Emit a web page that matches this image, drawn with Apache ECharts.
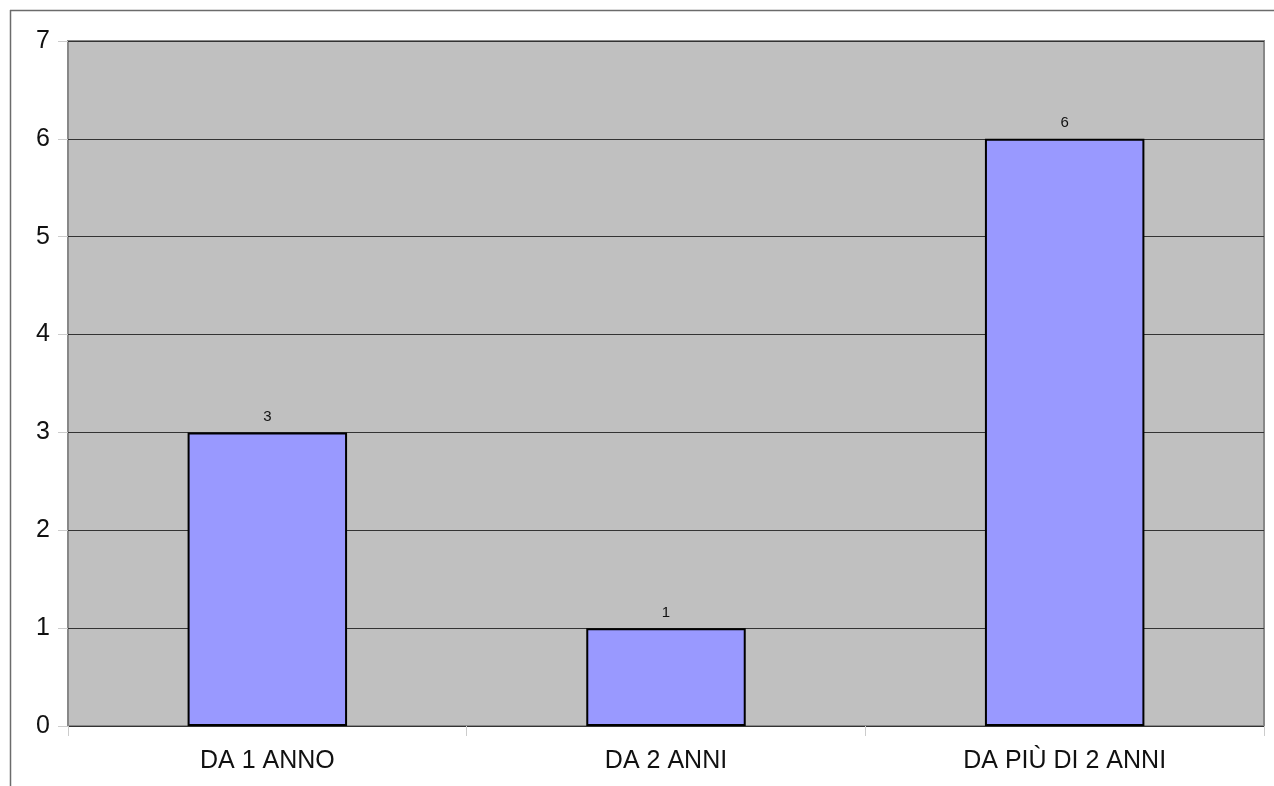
<!DOCTYPE html>
<html><head><meta charset="utf-8">
<script src="https://cdn.jsdelivr.net/npm/echarts@6/dist/echarts.min.js"></script>
<style>html,body{margin:0;padding:0;background:#fff}#c{width:1274px;height:786px}</style>
</head><body><div id="c"></div>
<script>
const categories = ['DA 1 ANNO', 'DA 2 ANNI', 'DA PIÙ DI 2 ANNI'];
const values = [3, 1, 6];
const yTicks = [0, 1, 2, 3, 4, 5, 6, 7];

const chart = echarts.init(document.getElementById('c'), null, {renderer: 'canvas'});
const font = 'Liberation Sans, Arial, sans-serif';
chart.setOption({
  animation: false,
  backgroundColor: '#ffffff',
  grid: {left: 68, right: 10, top: 41, bottom: 60, show: true, backgroundColor: '#c0c0c0', borderColor: '#888888', borderWidth: 2},
  graphic: [
    {type: 'line', shape: {x1: 10.5, y1: 10, x2: 10.5, y2: 786}, style: {stroke: '#6b6b6b', lineWidth: 1.5}},
    {type: 'line', shape: {x1: 10, y1: 10.5, x2: 1274, y2: 10.5}, style: {stroke: '#6b6b6b', lineWidth: 1.5}}
  ],
  xAxis: {
    type: 'category', data: categories,
    axisLine: {show: false},
    axisTick: {show: true, length: 10, lineStyle: {color: '#cccccc'}},
    axisLabel: {color: '#111', fontFamily: font, fontSize: 25, margin: 23}
  },
  yAxis: {
    type: 'value', min: 0, max: 7, interval: 1,
    axisLine: {show: false},
    axisTick: {show: true, length: 10, lineStyle: {color: '#cccccc'}},
    axisLabel: {color: '#111', fontFamily: font, fontSize: 25, margin: 18,
      formatter: v => yTicks.includes(v) ? String(v) : ''},
    splitLine: {show: true, lineStyle: {color: '#333333', width: 1}}
  },
  series: [{
    type: 'bar', data: values, barWidth: '40%',
    itemStyle: {color: '#9999ff', borderColor: '#000000', borderWidth: 2},
    label: {show: true, position: 'top', distance: 8, color: '#111', fontFamily: font, fontSize: 15}
  }]
});
</script></body></html>
